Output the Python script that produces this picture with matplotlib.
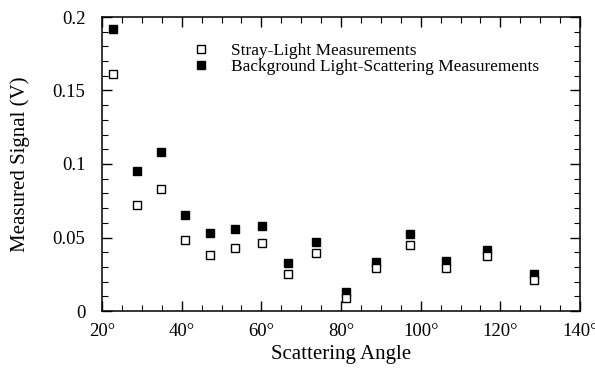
import matplotlib
matplotlib.use("Agg")
from matplotlib import pyplot as plt
from matplotlib.ticker import MultipleLocator, FuncFormatter

# scattering angle (deg)
angles = [22.8, 28.7, 34.9, 40.9, 47.1, 53.5, 60.1, 66.8, 73.7, 81.3, 88.8, 97.2, 106.4, 116.6, 128.5]
# stray-light measurements (V), open squares
stray = [0.161, 0.072, 0.083, 0.048, 0.038, 0.043, 0.0465, 0.025, 0.0395, 0.009, 0.029, 0.045, 0.0295, 0.0376, 0.0213]
# background light-scattering measurements (V), filled squares
background = [0.1916, 0.095, 0.108, 0.0653, 0.0533, 0.0558, 0.058, 0.0329, 0.0469, 0.0131, 0.0331, 0.0522, 0.0338, 0.0417, 0.025]

plt.rcParams['font.family'] = ['Liberation Serif', 'DejaVu Serif']

fig = plt.figure(figsize=(5.95, 3.70), dpi=100)
ax = fig.add_axes([102 / 595, 1 - 311 / 370, 478 / 595, 294 / 370])

ax.plot(angles, stray, 's', ms=5.5, mfc='white', mec='black', mew=1.0,
        label='Stray-Light Measurements', zorder=3)
ax.plot(angles, background, 's', ms=5.5, mfc='black', mec='black', mew=1.0,
        label='Background Light-Scattering Measurements', zorder=2)

ax.set_xlim(20, 140)
ax.set_ylim(0, 0.2)
ax.xaxis.set_major_locator(MultipleLocator(20))
ax.xaxis.set_minor_locator(MultipleLocator(5))
ax.yaxis.set_major_locator(MultipleLocator(0.05))
ax.yaxis.set_minor_locator(MultipleLocator(0.01))
ax.xaxis.set_major_formatter(FuncFormatter(lambda v, p: '%d\u00b0' % round(v)))
ax.yaxis.set_major_formatter(FuncFormatter(lambda v, p: '%g' % round(v, 3)))

ax.tick_params(which='both', direction='in', top=True, right=True, labelsize=13.5)
ax.tick_params(which='major', length=7, width=1)
ax.tick_params(which='minor', length=4, width=0.8)
ax.tick_params(axis='x', pad=9)
ax.tick_params(axis='y', pad=12)
for s in ax.spines.values():
    s.set_linewidth(1.1)

ax.set_xlabel('Scattering Angle', fontsize=15, labelpad=3)
ax.set_ylabel('Measured Signal (V)', fontsize=15, labelpad=16)

ax.legend(loc='upper left', bbox_to_anchor=(0.172, 0.94), frameon=False,
          fontsize=12.4, handletextpad=1.2, borderpad=0, labelspacing=0.0,
          handlelength=1.0)

fig.savefig('out.png', dpi=100)
